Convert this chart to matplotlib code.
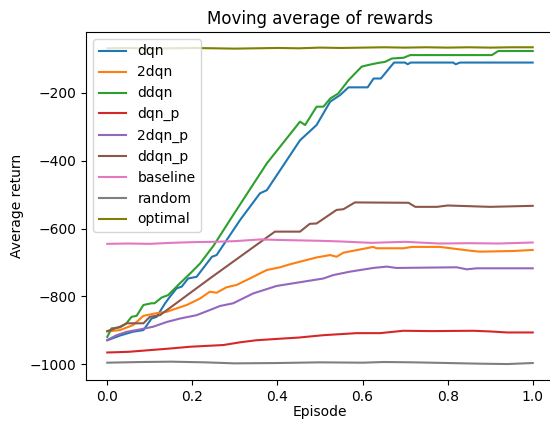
import matplotlib.pyplot as plt

# episodes (normalised) and moving-average returns
dqn_x = [0, 0.03, 0.06, 0.085, 0.104, 0.116, 0.136, 0.147, 0.163, 0.175, 0.19, 0.21, 0.246, 0.257,
         0.312, 0.359, 0.375, 0.453, 0.492, 0.524, 0.547, 0.567, 0.612, 0.626, 0.643, 0.674, 0.700,
         0.706, 0.713, 0.813, 0.819, 0.829, 1.0]
dqn_y = [-929, -915, -904, -899, -865, -860, -820, -801, -776, -771, -747, -742, -683, -678,
         -575, -496, -487, -340, -295, -226, -207, -184, -184, -158, -158, -111, -111,
         -116, -111, -111, -116, -111, -111]

ddqn_x = [0, 0.01, 0.03, 0.045, 0.057, 0.069, 0.085, 0.104, 0.111, 0.128, 0.143, 0.171, 0.195, 0.218,
          0.25, 0.296, 0.375, 0.453, 0.465, 0.492, 0.508, 0.524, 0.543, 0.567, 0.598, 0.614, 0.637,
          0.653, 0.669, 0.696, 0.712, 0.904, 0.919, 1.0]
ddqn_y = [-919, -894, -891, -879, -860, -857, -825, -820, -820, -803, -796, -761, -732, -703,
          -650, -560, -408, -285, -295, -241, -241, -217, -202, -163, -123, -118, -112,
          -109, -99, -97, -89, -89, -77, -77]

dqn2_x = [0, 0.03, 0.061, 0.085, 0.112, 0.14, 0.163, 0.187, 0.218, 0.241, 0.257, 0.28, 0.304, 0.335,
          0.375, 0.406, 0.43, 0.492, 0.524, 0.539, 0.555, 0.625, 0.633, 0.696, 0.716, 0.782, 0.852,
          0.876, 0.954, 1.0]
dqn2_y = [-903, -899, -884, -857, -850, -845, -835, -825, -806, -786, -789, -773, -766, -747,
          -722, -714, -705, -685, -678, -683, -671, -654, -658, -658, -654, -654, -665,
          -668, -666, -663]

dqn_p_x = [0, 0.05, 0.1, 0.15, 0.195, 0.273, 0.312, 0.35, 0.398, 0.45, 0.508, 0.586, 0.641, 0.696,
           0.76, 0.86, 0.9, 0.94, 1.0]
dqn_p_y = [-965, -963, -958, -953, -948, -943, -935, -929, -925, -921, -914, -908, -908, -901,
           -902, -901, -903, -906, -906]

dqn2_p_x = [0, 0.022, 0.046, 0.077, 0.108, 0.14, 0.171, 0.21, 0.241, 0.265, 0.296, 0.343, 0.398,
            0.508, 0.531, 0.57, 0.625, 0.657, 0.68, 0.821, 0.845, 0.868, 1.0]
dqn2_p_y = [-928, -914, -904, -897, -889, -875, -865, -855, -840, -828, -820, -791, -769,
            -747, -737, -727, -716, -712, -716, -714, -720, -717, -717]

ddqn_p_x = [0, 0.03, 0.046, 0.085, 0.1, 0.124, 0.241, 0.394, 0.453, 0.476, 0.492, 0.539, 0.555,
            0.582, 0.708, 0.724, 0.775, 0.8, 0.9, 1.0]
ddqn_p_y = [-902, -889, -879, -879, -860, -855, -747, -609, -609, -586, -585, -545, -543,
            -523, -524, -536, -536, -532, -536, -533]

baseline_x = [0, 0.05, 0.1, 0.15, 0.2, 0.25, 0.3, 0.36, 0.42, 0.5, 0.55, 0.62, 0.7, 0.78, 0.85,
              0.92, 1.0]
baseline_y = [-645, -644, -645, -642, -640, -639, -637, -632, -634, -636, -638, -642, -639, -644,
              -643, -644, -641]

random_x = [0, 0.08, 0.15, 0.23, 0.3, 0.4, 0.5, 0.6, 0.65, 0.72, 0.8, 0.88, 0.94, 1.0]
random_y = [-995, -993, -992, -994, -997, -996, -994, -995, -993, -994, -996, -998, -999, -996]

optimal_x = [0, 0.05, 0.1, 0.15, 0.2, 0.25, 0.3, 0.35, 0.4, 0.45, 0.5, 0.55, 0.6, 0.65, 0.7, 0.75,
             0.8, 0.85, 0.9, 0.95, 1.0]
optimal_y = [-69, -68, -70, -69, -68, -69, -70, -69, -68, -69, -67, -68, -67, -66, -67, -66,
             -67, -66, -67, -66, -66]

fig = plt.figure(figsize=(5.5, 4.21), dpi=100)
# the reference is cropped on the right, so the axes run past the figure edge
ax = fig.add_axes([86 / 550, 1 - 380 / 421, 468 / 550, 348 / 421])

ax.plot(dqn_x, dqn_y, label="dqn")
ax.plot(dqn2_x, dqn2_y, label="2dqn")
ax.plot(ddqn_x, ddqn_y, label="ddqn")
ax.plot(dqn_p_x, dqn_p_y, label="dqn_p")
ax.plot(dqn2_p_x, dqn2_p_y, label="2dqn_p")
ax.plot(ddqn_p_x, ddqn_p_y, label="ddqn_p")
ax.plot(baseline_x, baseline_y, label="baseline")
ax.plot(random_x, random_y, label="random")
ax.plot(optimal_x, optimal_y, color="olive", label="optimal")

ax.set_xlim(-0.05, 1.05)
ax.set_ylim(-1046, -21)
ax.set_title("Moving average of rewards")
ax.set_xlabel("Episode", labelpad=1)
ax.set_ylabel("Average return")
ax.legend(loc="upper left")

fig.savefig("out.png", dpi=100)
